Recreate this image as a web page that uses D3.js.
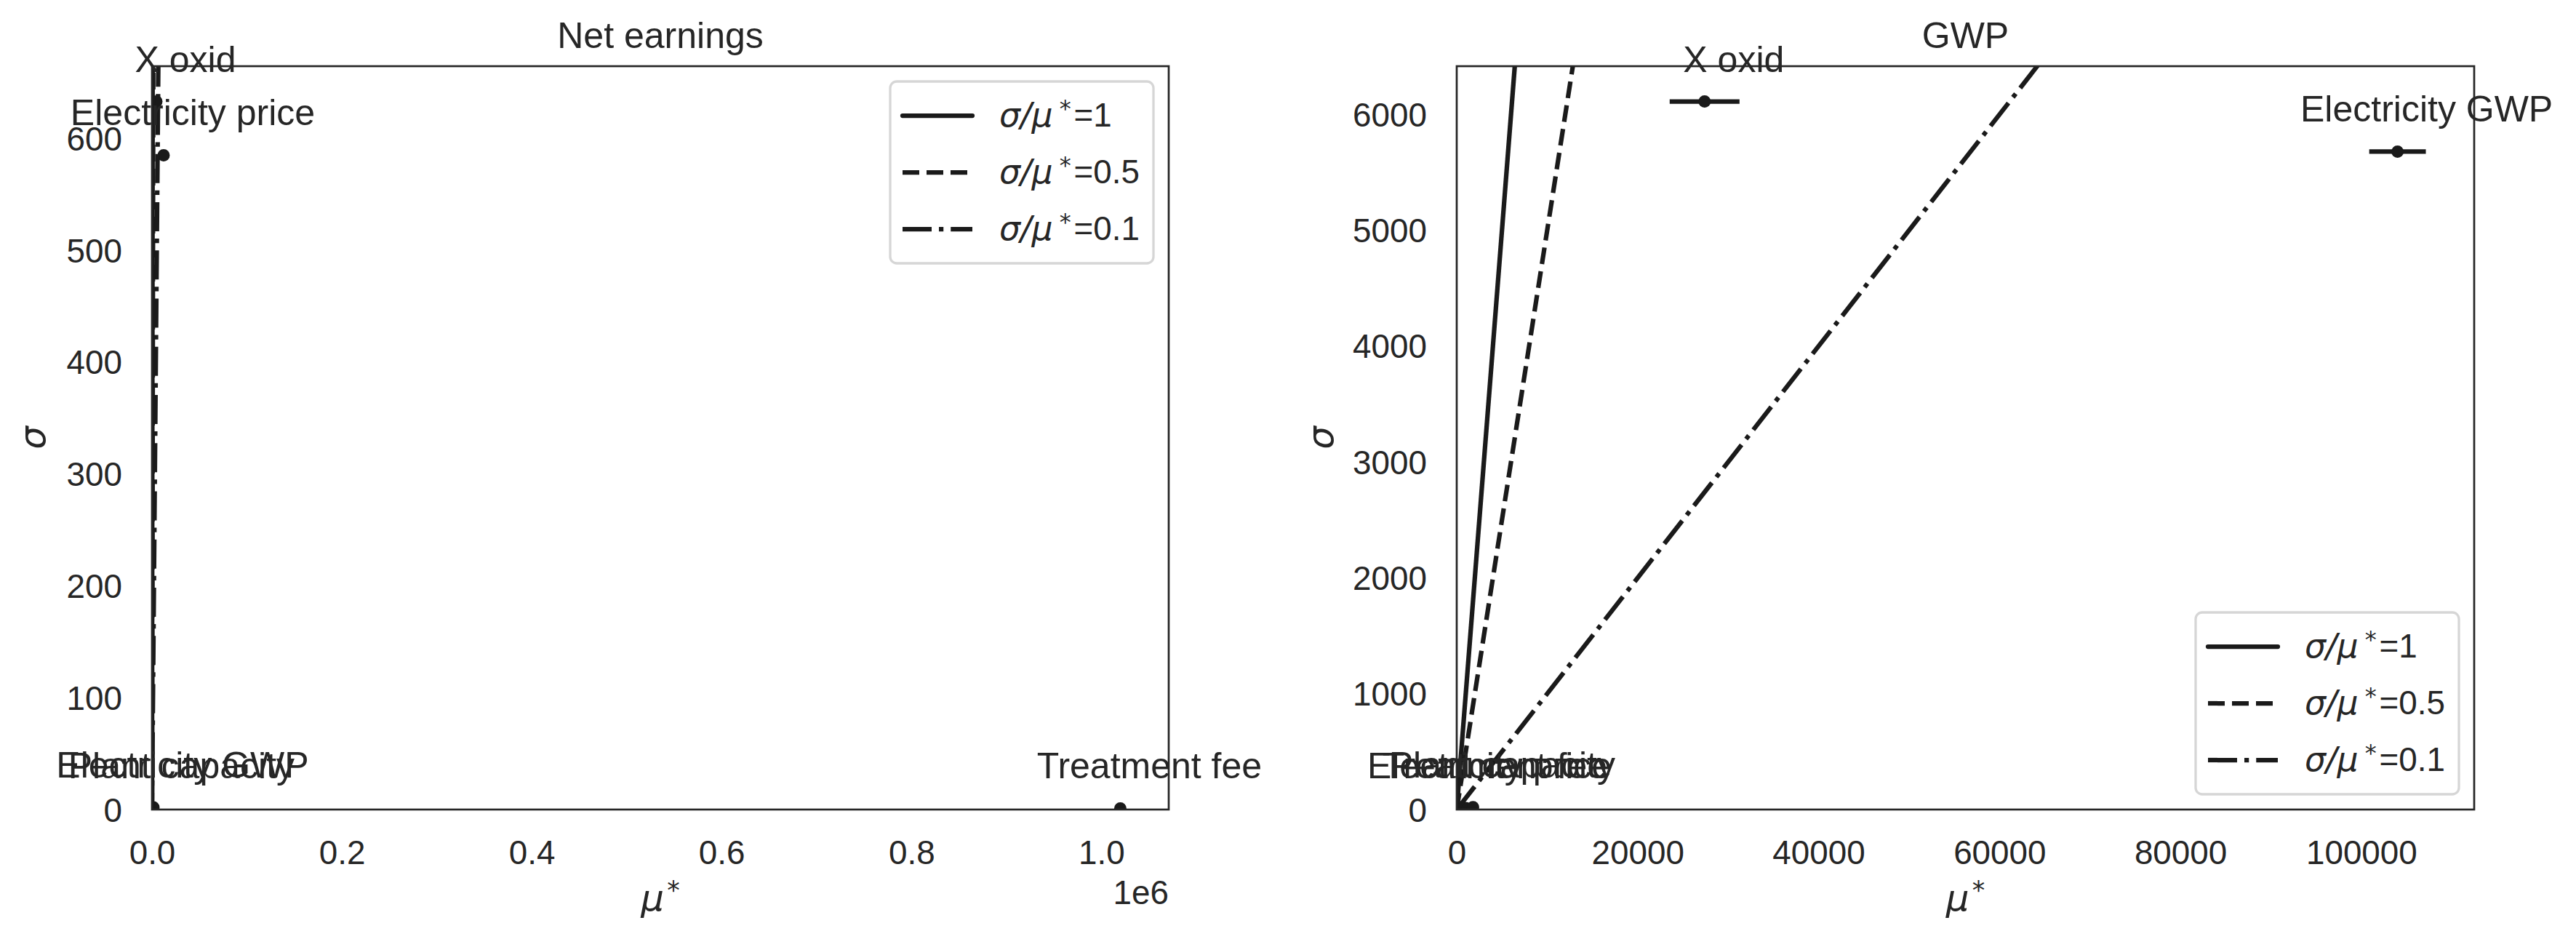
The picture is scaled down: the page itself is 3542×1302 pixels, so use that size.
<!DOCTYPE html>
<html>
<head>
<meta charset="utf-8">
<script src="https://cdn.jsdelivr.net/npm/d3@7"></script>
<style>
  body { margin: 0; background: #fff; }
  text { font-family: "Liberation Sans", Arial, sans-serif; fill: #262626; }
  .math { font-family: "DejaVu Sans", sans-serif; font-style: italic; }
</style>
</head>
<body>
<script>
// parameter names (same order in both panels)
var names = ["X oxid", "Electricity price", "Electricity GWP", "Treatment fee", "Plant capacity"];

// Net earnings: mu*, sigma and mu* confidence
var netMuStar = [4590, 12230, 1500, 1020000, 300];
var netSigma  = [633, 585, 2, 1, 1];
var netConf   = [1500, 2500, 800, 0, 200];

// GWP: mu*, sigma and mu* confidence
var gwpMuStar = [27400, 400, 104000, 1000, 1800];
var gwpSigma  = [6112, 10, 5680, 12, 20];
var gwpConf   = [3860, 150, 3130, 300, 500];

// tick values
var netTicksX = [0, 200000, 400000, 600000, 800000, 1000000];
var netTicksY = [0, 100, 200, 300, 400, 500, 600];
var gwpTicksX = [0, 20000, 40000, 60000, 80000, 100000];
var gwpTicksY = [0, 1000, 2000, 3000, 4000, 5000, 6000];

// reference lines sigma/mu* = ratio
var ratios = [1, 0.5, 0.1];
var ratioLabels = ["1", "0.5", "0.1"];

var ink = "#262626", markColor = "#1a1a1a";
var axTop = 91, axBottom = 1113;
var dashes = [null, "23 10", "40 10 6.25 10"];

var svg = d3.select("body").append("svg")
    .attr("width", 3542)
    .attr("height", 1302);

svg.append("rect").attr("width", 3542).attr("height", 1302).attr("fill", "#fff");

function mathLabel(sel, tail, size) {
    // sigma/mu^* followed by plain text
    sel.append("tspan").attr("class", "math").text("\u03c3/\u03bc");
    sel.append("tspan").attr("class", "math").style("font-style", "normal")
        .attr("font-size", size * 0.7).attr("dx", size * 0.2).attr("dy", -size * 0.3).text("*");
    sel.append("tspan").attr("dy", size * 0.3).attr("dx", size * 0.08).text(tail);
}

function covariancePlot(cfg) {
    // matplotlib-like autoscale (5% margin), lower limits pinned to 0
    var lo = d3.min(cfg.mu, function(d, i) { return d - cfg.conf[i]; });
    var hi = d3.max(cfg.mu, function(d, i) { return d + cfg.conf[i]; });
    var xScale = d3.scaleLinear()
        .domain([0, hi + 0.05 * (hi - lo)])
        .range([cfg.left, cfg.right]);

    var sLo = d3.min(cfg.sigma), sHi = d3.max(cfg.sigma);
    var yScale = d3.scaleLinear()
        .domain([0, sHi + 0.05 * (sHi - sLo)])
        .range([axBottom, axTop]);

    var g = svg.append("g");
    var clipId = "clip-" + cfg.id;
    g.append("clipPath").attr("id", clipId).append("rect")
        .attr("x", cfg.left).attr("y", axTop)
        .attr("width", cfg.right - cfg.left).attr("height", axBottom - axTop);

    // axes (no tick marks, seaborn white style)
    var xAxis = d3.axisBottom(xScale).tickValues(cfg.xTicks).tickSize(0).tickFormat(cfg.xFormat);
    var gx = g.append("g").attr("transform", "translate(0," + axBottom + ")").call(xAxis);
    gx.select(".domain").remove();
    gx.attr("font-family", null).attr("font-size", null);
    gx.selectAll("text").attr("y", 75).attr("dy", 0)
        .attr("font-size", 45.8).attr("fill", ink);

    var yAxis = d3.axisLeft(yScale).tickValues(cfg.yTicks).tickSize(0).tickFormat(d3.format("d"));
    var gy = g.append("g").attr("transform", "translate(" + cfg.left + ",0)").call(yAxis);
    gy.select(".domain").remove();
    gy.attr("font-family", null).attr("font-size", null);
    gy.selectAll("text").attr("x", -41).attr("dy", "0.35em")
        .attr("font-size", 45.8).attr("fill", ink);

    var plot = g.append("g").attr("clip-path", "url(#" + clipId + ")");

    // error bars
    plot.selectAll(".err")
        .data(cfg.mu)
        .enter()
        .append("line")
        .attr("x1", function(d, i) { return xScale(d - cfg.conf[i]); })
        .attr("x2", function(d, i) { return xScale(d + cfg.conf[i]); })
        .attr("y1", function(d, i) { return yScale(cfg.sigma[i]); })
        .attr("y2", function(d, i) { return yScale(cfg.sigma[i]); })
        .attr("stroke", markColor)
        .attr("stroke-width", 6.25);

    plot.selectAll("circle")
        .data(cfg.mu)
        .enter()
        .append("circle")
        .attr("r", 8.5)
        .attr("cx", function(d) { return xScale(d); })
        .attr("cy", function(d, i) { return yScale(cfg.sigma[i]); })
        .attr("fill", markColor);

    // sigma/mu* reference lines
    var xLim = xScale.domain()[1];
    plot.selectAll(".ratio")
        .data(ratios)
        .enter()
        .append("line")
        .attr("x1", xScale(0)).attr("y1", yScale(0))
        .attr("x2", xScale(xLim))
        .attr("y2", function(d) { return yScale(d * xLim); })
        .attr("stroke", markColor)
        .attr("stroke-width", 6.25)
        .attr("stroke-dasharray", function(d, i) { return dashes[i]; });

    // annotations
    g.selectAll(".name")
        .data(names)
        .enter()
        .append("text")
        .attr("x", function(d, i) { return xScale(cfg.mu[i]) + 40; })
        .attr("y", function(d, i) { return yScale(cfg.sigma[i]) - 41; })
        .attr("text-anchor", "middle")
        .attr("font-size", 50)
        .text(function(d) { return d; });

    // frame
    g.append("rect")
        .attr("x", cfg.left).attr("y", axTop)
        .attr("width", cfg.right - cfg.left).attr("height", axBottom - axTop)
        .attr("fill", "none").attr("stroke", ink).attr("stroke-width", 2.7);

    // title and axis labels
    var cx = (cfg.left + cfg.right) / 2;
    g.append("text").attr("x", cx).attr("y", 66).attr("text-anchor", "middle")
        .attr("font-size", 50).text(cfg.title);

    var xl = g.append("text").attr("x", cx).attr("y", 1252).attr("text-anchor", "middle").attr("font-size", 50);
    xl.append("tspan").attr("class", "math").text("\u03bc");
    xl.append("tspan").attr("class", "math").style("font-style", "normal")
        .attr("font-size", 35).attr("dx", 4).attr("dy", -16).text("*");

    g.append("text")
        .attr("transform", "translate(" + cfg.ylabelX + "," + (axTop + axBottom) / 2 + ") rotate(-90)")
        .attr("text-anchor", "middle").attr("font-size", 50)
        .attr("class", "math").text("\u03c3");

    if (cfg.offsetText) {
        g.append("text").attr("x", cfg.right).attr("y", 1243).attr("text-anchor", "end")
            .attr("font-size", 45.8).text(cfg.offsetText);
    }

    // legend
    var lw = 362, lh = 250;
    var lx = cfg.right - 21 - lw;
    var ly = cfg.legendUpper ? axTop + 21 : axBottom - 21 - lh;
    var lg = g.append("g").attr("transform", "translate(" + lx + "," + ly + ")");
    lg.append("rect").attr("width", lw).attr("height", lh).attr("rx", 9)
        .attr("fill", "#fff").attr("fill-opacity", 0.8)
        .attr("stroke", "#d6d6d6").attr("stroke-width", 3.3);
    ratios.forEach(function(r, i) {
        var ry = 47 + i * 78;
        lg.append("line").attr("x1", 17).attr("x2", 113).attr("y1", ry).attr("y2", ry)
            .attr("stroke", markColor).attr("stroke-width", 6.25)
            .attr("stroke-linecap", i === 0 ? "round" : "butt")
            .attr("stroke-dasharray", dashes[i]);
        var t = lg.append("text").attr("x", 150).attr("y", ry + 15).attr("font-size", 45.8);
        mathLabel(t, "=" + ratioLabels[i], 45.8);
    });
}

covariancePlot({
    id: "net", title: "Net earnings",
    mu: netMuStar, sigma: netSigma, conf: netConf,
    xTicks: netTicksX, yTicks: netTicksY,
    xFormat: function(d) { return (d / 1e6).toFixed(1); },
    offsetText: "1e6",
    left: 209, right: 1607, ylabelX: 62, legendUpper: true
});

covariancePlot({
    id: "gwp", title: "GWP",
    mu: gwpMuStar, sigma: gwpSigma, conf: gwpConf,
    xTicks: gwpTicksX, yTicks: gwpTicksY,
    xFormat: d3.format("d"),
    offsetText: null,
    left: 2003, right: 3402, ylabelX: 1833, legendUpper: false
});
</script>
</body>
</html>
